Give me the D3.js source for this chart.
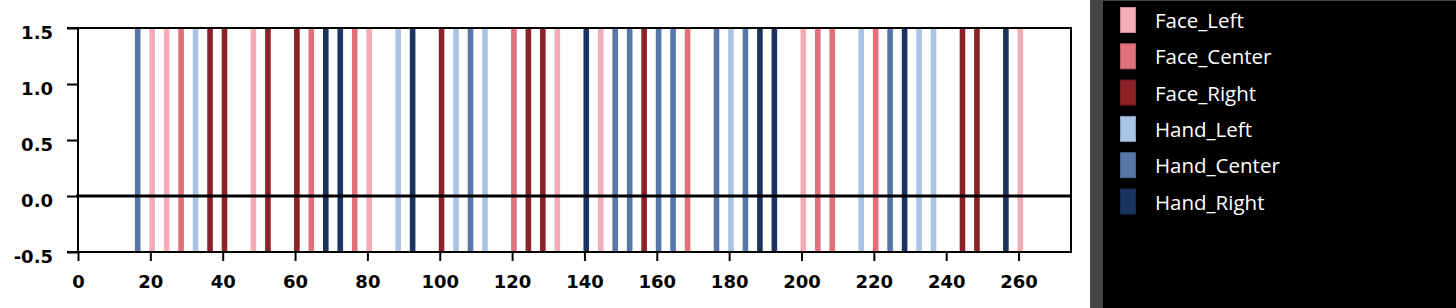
<!DOCTYPE html>
<html>
<head>
<meta charset="utf-8">
<script src="https://cdn.jsdelivr.net/npm/d3@7"></script>
<style>
body { margin: 0; background: #fff; overflow: hidden; }
</style>
</head>
<body>
<div class="main"></div>
<script>
//canvas config
var fullWidth = 1456, fullHeight = 308;
var margin = {top: 28, left: 78};
var plotRight = 1071, plotBottom = 252;

//data
var categories = ["Face_Left", "Face_Center", "Face_Right", "Hand_Left", "Hand_Center", "Hand_Right"];
var colours = ["#f3acb5", "#e0717b", "#8c2128", "#a9c4e4", "#5677a8", "#1b3360"];
var eventTimes = [16.5, 20.5, 24.5, 28.5, 32.5, 36.5, 40.5, 48.5, 52.5, 60.5, 64.5, 68.5, 72.5, 76.5, 80.5,
	88.5, 92.5, 100.5, 104.5, 108.5, 112.5, 120.5, 124.5, 128.5, 132.5, 140.5, 144.5, 148.5, 152.5, 156.5,
	160.5, 164.5, 168.5, 176.5, 180.5, 184.5, 188.5, 192.5, 200.5, 204.5, 208.5, 216.5, 220.5, 224.5,
	228.5, 232.5, 236.5, 244.5, 248.5, 256.5, 260.5];
var eventLabels = ["Hand_Center", "Face_Left", "Face_Left", "Face_Center", "Hand_Left", "Face_Right", "Face_Right",
	"Face_Left", "Face_Right", "Face_Right", "Face_Center", "Hand_Right", "Hand_Right", "Face_Center", "Face_Left",
	"Hand_Left", "Hand_Right", "Face_Right", "Hand_Left", "Hand_Center", "Hand_Left", "Face_Center", "Face_Right",
	"Face_Right", "Face_Left", "Hand_Right", "Face_Left", "Hand_Center", "Hand_Center", "Face_Right",
	"Hand_Center", "Hand_Center", "Face_Center", "Hand_Center", "Hand_Left", "Hand_Center", "Hand_Right", "Hand_Right",
	"Face_Left", "Face_Center", "Face_Center", "Hand_Left", "Face_Center", "Hand_Center",
	"Hand_Right", "Hand_Left", "Hand_Left", "Face_Right", "Face_Right", "Hand_Right", "Face_Left"];
var barLow = -0.5, barHigh = 1.5, barWidthUnits = 1.55;
var xTicks = [0, 20, 40, 60, 80, 100, 120, 140, 160, 180, 200, 220, 240, 260];
var yTicks = [-0.5, 0, 0.5, 1.0, 1.5];

var events = eventTimes.map(function(t, i) { return {t: t, label: eventLabels[i]}; });

var svg = d3.select(".main")
	.append("svg")
	.attr("width", fullWidth)
	.attr("height", fullHeight);

var xScale = d3.scaleLinear().domain([0, 274.5]).range([margin.left, plotRight]);
var yScale = d3.scaleLinear().domain([barLow, barHigh]).range([plotBottom, margin.top]);
var colourScale = d3.scaleOrdinal().domain(categories).range(colours);

//bars
svg.append("g")
	.attr("class", "bars")
	.selectAll("rect")
	.data(events)
	.enter()
	.append("rect")
	.attr("x", function(d) { return xScale(d.t - barWidthUnits / 2); })
	.attr("width", function(d) { return xScale(barWidthUnits) - xScale(0); })
	.attr("y", yScale(barHigh))
	.attr("height", yScale(barLow) - yScale(barHigh))
	.style("fill", function(d) { return colourScale(d.label); });

//axes (plain hyphen for negatives, like the original)
var yFormat = function(v) { return d3.format(".1f")(v).replace("\u2212", "-"); };
var xAxis = d3.axisBottom(xScale).tickValues(xTicks).tickSize(9).tickPadding(14).tickFormat(d3.format("d"));
var yAxis = d3.axisLeft(yScale).tickValues(yTicks).tickSize(11).tickPadding(14).tickFormat(yFormat);

var gx = svg.append("g")
	.attr("class", "x-axis")
	.attr("transform", "translate(0," + plotBottom + ")")
	.call(xAxis);
var gy = svg.append("g")
	.attr("class", "y-axis")
	.attr("transform", "translate(" + margin.left + ",0)")
	.call(yAxis);

[gx, gy].forEach(function(g) {
	g.select(".domain").remove();
	g.selectAll(".tick line").style("stroke", "#000").style("stroke-width", 2);
	g.selectAll(".tick text")
		.style("font-family", "'DejaVu Sans', sans-serif")
		.style("font-weight", "bold")
		.style("font-size", "18px")
		.style("fill", "#000");
});
gy.selectAll(".tick text").attr("dy", "0.6em");

//frame
var frame = svg.append("g").attr("class", "frame").style("stroke", "#000").style("stroke-width", 2);
frame.append("line").attr("x1", margin.left).attr("x2", margin.left).attr("y1", margin.top).attr("y2", plotBottom);
frame.append("line").attr("x1", plotRight).attr("x2", plotRight).attr("y1", margin.top).attr("y2", plotBottom);
frame.append("line").attr("x1", margin.left - 11).attr("x2", plotRight + 1).attr("y1", margin.top).attr("y2", margin.top);
frame.append("line").attr("x1", margin.left - 11).attr("x2", plotRight + 1).attr("y1", plotBottom).attr("y2", plotBottom);
//zero line
svg.append("line")
	.attr("x1", margin.left - 2).attr("x2", plotRight)
	.attr("y1", yScale(0)).attr("y2", yScale(0))
	.style("stroke", "#000").style("stroke-width", 3);

//legend panel
svg.append("rect").attr("x", 1090).attr("y", 0).attr("width", 13).attr("height", fullHeight).style("fill", "#454545");
svg.append("rect").attr("x", 1103).attr("y", 0).attr("width", fullWidth - 1103).attr("height", fullHeight).style("fill", "#000");
svg.append("rect").attr("x", 1103).attr("y", 0).attr("width", fullWidth - 1103).attr("height", 1).style("fill", "#454545");

var legend = svg.append("g")
	.attr("class", "legend")
	.selectAll("g")
	.data(categories)
	.enter()
	.append("g")
	.attr("transform", function(d, i) { return "translate(1120," + (7 + i * 36.3) + ")"; });
legend.append("rect")
	.attr("x", 0.5).attr("y", 0.5)
	.attr("width", 15).attr("height", 25)
	.style("fill", function(d) { return colourScale(d); })
	.style("stroke", function(d) { return d3.color(colourScale(d)).darker(0.6); })
	.style("stroke-width", 1);
legend.append("text")
	.attr("x", 35)
	.attr("y", 21)
	.text(function(d) { return d; })
	.style("font-family", "'Open Sans', 'Noto Sans', sans-serif")
	.style("font-size", "20.5px")
	.style("fill", "#fff");
</script>
</body>
</html>
